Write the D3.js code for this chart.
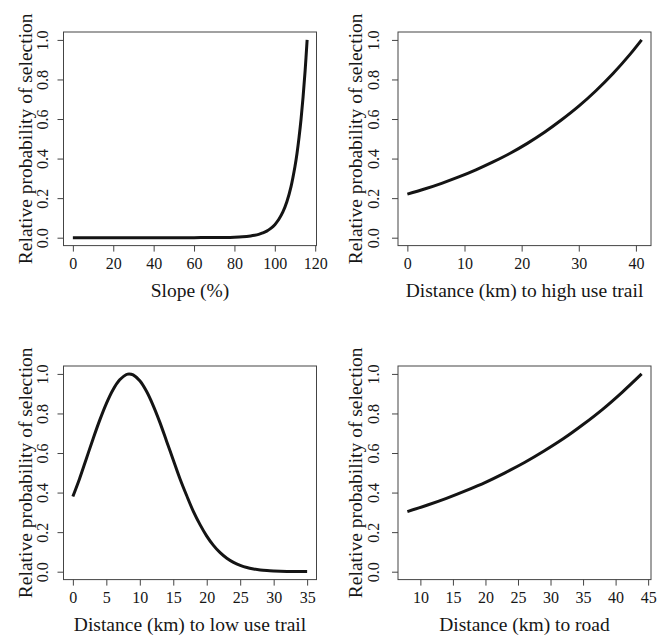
<!DOCTYPE html>
<html>
<head>
<meta charset="utf-8">
<script src="https://cdn.jsdelivr.net/npm/d3@7"></script>
<style>
  html, body { margin: 0; padding: 0; background: #fff; }
  svg { display: block; }
</style>
</head>
<body>
<svg id="ctner"></svg>
<script>
// values
const slopeX = [0, 10, 20, 30, 40, 50, 60, 70, 75, 80, 84, 88, 90, 92, 94, 96, 98, 100, 102, 104, 106, 108, 110, 111, 112, 113, 114, 115, 116];
const slopeY = [0, 0, 0, 0, 0, 0, 0.0003, 0.0006, 0.001, 0.0022, 0.0043, 0.0086, 0.012, 0.017, 0.024, 0.033, 0.047, 0.066, 0.093, 0.13, 0.183, 0.257, 0.361, 0.427, 0.507, 0.6, 0.712, 0.844, 1.0];

const highTrailX = [0, 3, 6, 9, 12, 15, 18, 21, 24, 27, 30, 33, 36, 39, 41];
const highTrailY = [0.22, 0.246, 0.275, 0.307, 0.343, 0.383, 0.427, 0.477, 0.533, 0.596, 0.665, 0.743, 0.83, 0.928, 1.0];

const lowTrailX = [0, 1, 2, 3, 4, 5, 6, 7, 8, 8.4, 9, 10, 11, 12, 13, 14, 15, 16, 17, 18, 19, 20, 21, 22, 23, 24, 25, 26, 27, 28, 29, 30, 31, 32, 33, 34, 35];
const lowTrailY = [0.38, 0.47, 0.57, 0.67, 0.765, 0.85, 0.92, 0.97, 0.997, 1.0, 0.995, 0.965, 0.912, 0.84, 0.755, 0.66, 0.565, 0.47, 0.385, 0.305, 0.238, 0.18, 0.133, 0.096, 0.068, 0.047, 0.032, 0.021, 0.014, 0.009, 0.006, 0.004, 0.0025, 0.0015, 0.001, 0.0006, 0.0004];

const roadX = [8, 11, 14, 17, 20, 23, 26, 29, 32, 35, 38, 41, 44];
const roadY = [0.304, 0.336, 0.371, 0.41, 0.452, 0.5, 0.552, 0.61, 0.673, 0.744, 0.821, 0.907, 1.0];

const yTicks = [0, 0.2, 0.4, 0.6, 0.8, 1.0];
const slopeTicks = [0, 20, 40, 60, 80, 100, 120];
const highTrailTicks = [0, 10, 20, 30, 40];
const lowTrailTicks = [0, 5, 10, 15, 20, 25, 30, 35];
const roadTicks = [10, 15, 20, 25, 30, 35, 40, 45];

const xTitles = ["Slope (%)", "Distance (km) to high use trail", "Distance (km) to low use trail", "Distance (km) to road"];
const yTitle = "Relative probability of selection";

const FONT = "Liberation Serif, Times New Roman, serif";

main();

function main() {
  const width = 665;
  const height = 635;
  const svg = d3.select("#ctner").attr("width", width).attr("height", height);

  // right column sits its y labels a bit further out than the left one
  const panels = [
    { xs: slopeX, ys: slopeY, ticks: slopeTicks, left: 63.5, top: 32, lab: 15.5, ttl: 32 },
    { xs: highTrailX, ys: highTrailY, ticks: highTrailTicks, left: 398, top: 32, lab: 19.5, ttl: 36 },
    { xs: lowTrailX, ys: lowTrailY, ticks: lowTrailTicks, left: 63.5, top: 366, lab: 15.5, ttl: 32 },
    { xs: roadX, ys: roadY, ticks: roadTicks, left: 398, top: 366, lab: 19.5, ttl: 36 },
  ];

  panels.forEach((p, i) => renderPanel(svg, p, xTitles[i]));
}

function renderPanel(root, p, xTitle) {
  /* layout information */
  const w = 253;
  const h = 213.6;
  const tick = 6;
  const ink = "#161616";

  const g = root.append("g")
    .attr("transform", `translate(${p.left}, ${p.top})`)
    .attr("font-family", FONT);

  /* scales, padded 4% like R's default */
  const [x0, x1] = d3.extent(p.xs);
  const pad = (x1 - x0) * 0.04;
  const x = d3.scaleLinear().domain([x0 - pad, x1 + pad]).range([0, w]);
  const y = d3.scaleLinear().domain([-0.04, 1.04]).range([h, 0]);

  /* axes */
  const xAxis = g.append("g")
    .attr("transform", `translate(0, ${h})`)
    .call(d3.axisBottom(x).tickValues(p.ticks).tickSize(tick).tickFormat(d3.format("d")));
  const yAxis = g.append("g")
    .call(d3.axisLeft(y).tickValues(yTicks).tickSize(tick).tickFormat(d3.format(".1f")));

  [xAxis, yAxis].forEach((a) => {
    a.attr("font-family", FONT).attr("font-size", 16);
    a.select(".domain").remove();
    a.selectAll(".tick line").attr("stroke", "#444");
    a.selectAll("text").attr("fill", ink);
  });

  // y labels run along the axis
  yAxis.selectAll(".tick text")
    .attr("x", null)
    .attr("dy", null)
    .attr("text-anchor", "middle")
    .attr("transform", `translate(${-p.lab}, 0) rotate(-90)`);

  // x labels: baseline placement
  xAxis.selectAll(".tick text").attr("dy", null).attr("y", 23.7);

  /* box */
  g.append("rect")
    .attr("width", w)
    .attr("height", h)
    .attr("fill", "none")
    .attr("stroke", "#444")
    .attr("stroke-width", 1);

  /* curve */
  const line = d3.line()
    .x((d) => x(d[0]))
    .y((d) => y(d[1]))
    .curve(d3.curveCatmullRom.alpha(0.5));
  g.append("path")
    .datum(d3.zip(p.xs, p.ys))
    .attr("fill", "none")
    .attr("stroke", "#141414")
    .attr("stroke-width", 3)
    .attr("stroke-linejoin", "round")
    .attr("stroke-linecap", "butt")
    .attr("d", line);

  /* titles */
  g.append("text")
    .attr("x", w / 2)
    .attr("y", h + 51)
    .attr("text-anchor", "middle")
    .attr("fill", ink)
    .attr("font-size", 19.5)
    .text(xTitle);
  g.append("text")
    .attr("transform", `translate(${-p.ttl}, ${h / 2}) rotate(-90)`)
    .attr("text-anchor", "middle")
    .attr("fill", ink)
    .attr("font-size", 19.5)
    .text(yTitle);
}
</script>
</body>
</html>
